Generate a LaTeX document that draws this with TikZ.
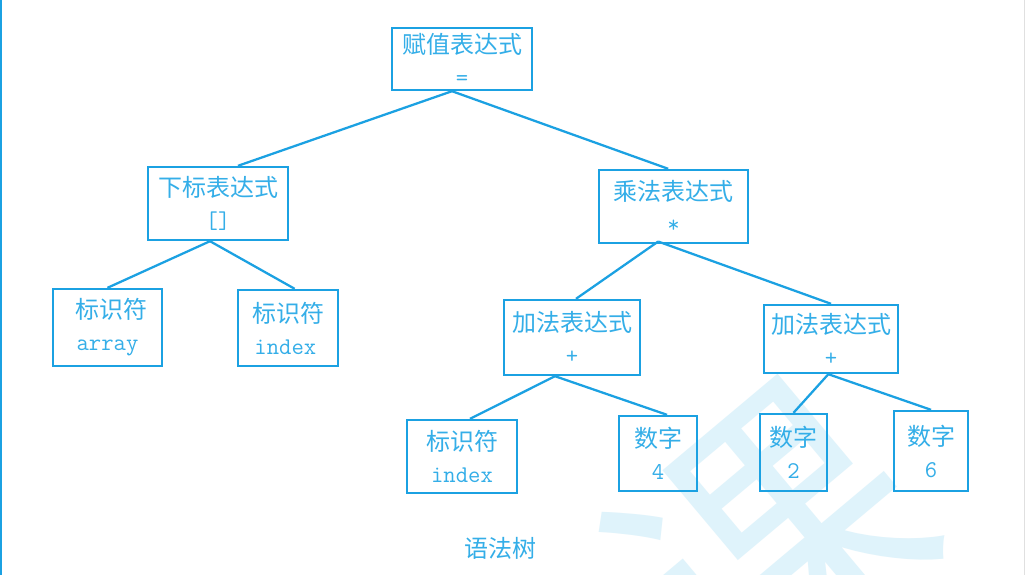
\documentclass[tikz,border=0pt]{standalone}
\usepackage{fontspec}
\newfontfamily\cjk{Noto Sans CJK SC}
\definecolor{treeblue}{RGB}{27,161,226}
\definecolor{textblue}{RGB}{52,174,232}
\definecolor{markblue}{RGB}{223,243,251}
\begin{document}
\begin{tikzpicture}[x=0.75pt,y=-0.75pt,
  box/.style={draw=treeblue,line width=1.8pt,text=textblue,align=center,inner sep=0pt,
    font=\fontsize{18}{24}\selectfont\cjk},
  edge/.style={treeblue,line width=1.7pt}]
\useasboundingbox[fill=white] (0,0) rectangle (1026,575);
% watermark
\node[text=markblue,rotate=40,font=\fontsize{225}{225}\selectfont\cjk] (mark) at (770,548) {课};
\draw[treeblue,line width=1.5pt] (1,0)--(1,575);
\draw[black!12,line width=0.75pt] (1024,0)--(1024,575);
% nodes
\node[box,minimum width=105pt,minimum height=46.5pt] (assign) at (462,59) {赋值表达式\\{\ttfamily =}};
\node[box,minimum width=105pt,minimum height=54.75pt] (sub) at (218,203.5) {下标表达式\\{\ttfamily []}};
\node[box,minimum width=111.75pt,minimum height=54.75pt] (mul) at (673.5,206.5) {乘法表达式\\{\ttfamily *}};
\node[box,minimum width=81.75pt,minimum height=57.75pt] (arr) at (107.5,327.5) {\hspace*{6pt}标识符\\{\ttfamily array}};
\node[box,minimum width=75pt,minimum height=57pt] (idx) at (288,328) {标识符\\{\ttfamily index}\hspace*{4pt}};
\node[box,minimum width=102pt,minimum height=56.25pt] (addl) at (572,337.5) {加法表达式\\{\ttfamily +}};
\node[box,minimum width=100.5pt,minimum height=51pt] (addr) at (831,339) {加法表达式\\{\ttfamily +}};
\node[box,minimum width=82.5pt,minimum height=54.75pt] (idx2) at (462,456.5) {标识符\\{\ttfamily index}};
\node[box,minimum width=58.5pt,minimum height=56.25pt] (four) at (658,453.5) {数字\\{\ttfamily 4}};
\node[box,minimum width=50.25pt,minimum height=57.75pt] (two) at (793.5,452.5) {数字\\{\ttfamily 2}};
\node[box,minimum width=55.5pt,minimum height=60pt] (six) at (931,451) {数字\\{\ttfamily 6}};
\node[text=textblue,font=\fontsize{18}{24}\selectfont\cjk] (title) at (500,548) {语法树};
% edges
\draw[edge] ([xshift=-7.5pt]assign.south)--([xshift=15pt]sub.north);
\draw[edge] ([xshift=-7.5pt]assign.south)--([xshift=-4pt]mul.north);
\draw[edge] ([xshift=-6pt]sub.south)--(arr.north);
\draw[edge] ([xshift=-6pt]sub.south)--([xshift=5pt]idx.north);
\draw[edge] ([xshift=-11.5pt,yshift=2pt]mul.south)--([xshift=3pt]addl.north);
\draw[edge] ([xshift=-11.5pt,yshift=2pt]mul.south)--(addr.north);
\draw[edge] ([xshift=-12.75pt]addl.south)--([xshift=6pt]idx2.north);
\draw[edge] ([xshift=-12.75pt]addl.south)--([xshift=6.75pt]four.north);
\draw[edge] ([xshift=-2pt]addr.south)--(two.north);
\draw[edge] ([xshift=-2pt]addr.south)--(six.north);
\end{tikzpicture}
\end{document}
